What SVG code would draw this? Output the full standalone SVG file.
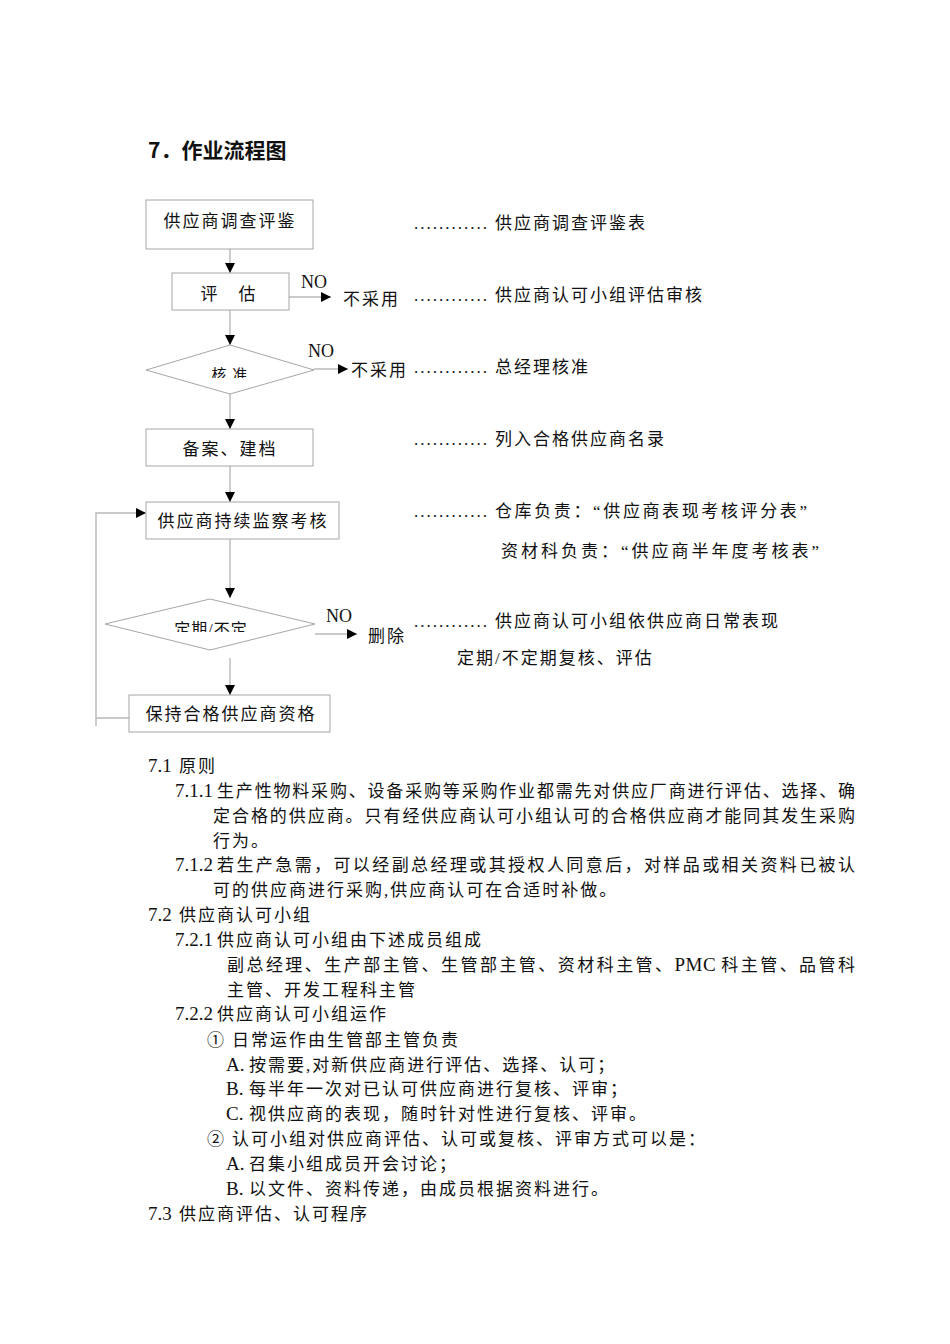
<svg xmlns="http://www.w3.org/2000/svg" width="950" height="1344" viewBox="0 0 950 1344">
<style>
text{font-family:"Liberation Serif","Noto Sans CJK SC",serif;fill:#111;}
.t{font-size:17px;letter-spacing:2px;}
.n{font-size:19px;}
.title{font-size:21px;font-weight:bold;font-family:"Noto Sans CJK SC","Liberation Sans",sans-serif;}
.box{fill:#fff;stroke:#a6a6a6;stroke-width:1;}
.conn{fill:none;stroke:#b8b8b8;stroke-width:1.4;}
.dots{font-size:17px;}
.sm{font-size:15px;letter-spacing:1px;}
</style>
<defs>
<marker id="ah" markerUnits="userSpaceOnUse" markerWidth="10" markerHeight="10" refX="10" refY="5" orient="auto">
<path d="M0,0 L10,5 L0,10 z" fill="#000"/>
</marker>
<clipPath id="c1"><rect x="140" y="350" width="180" height="28"/></clipPath>
<clipPath id="c2"><rect x="100" y="604" width="220" height="28"/></clipPath>
</defs>
<rect width="950" height="1344" fill="#fff"/>

<text class="title" x="148" y="158">7．作业流程图</text>

<g id="connectors">
<path class="conn" d="M230,249 V273" marker-end="url(#ah)"/>
<path class="conn" d="M230,310 V345" marker-end="url(#ah)"/>
<path class="conn" d="M230,394 V429" marker-end="url(#ah)"/>
<path class="conn" d="M230,466 V502" marker-end="url(#ah)"/>
<path class="conn" d="M230,539 V598" marker-end="url(#ah)"/>
<path class="conn" d="M230,658 V695" marker-end="url(#ah)"/>
<path class="conn" d="M289,297 H331" marker-end="url(#ah)"/>
<path class="conn" d="M314,369 H348" marker-end="url(#ah)"/>
<path class="conn" d="M315,634 H357" marker-end="url(#ah)"/>
<path class="conn" d="M129,718 H96 V513 H146" marker-end="url(#ah)"/>
<path class="conn" d="M96,718 V726"/>
<text class="n" x="301" y="288" style="font-size:18px">NO</text>
<text class="n" x="308" y="357" style="font-size:18px">NO</text>
<text class="n" x="326" y="622" style="font-size:18px">NO</text>
</g>

<g id="n1">
<rect class="box" x="146" y="200" width="167" height="49"/>
<text class="t" x="230" y="227" text-anchor="middle">供应商调查评鉴</text>
</g>
<g id="n2">
<rect class="box" x="172" y="273" width="117" height="37"/>
<text class="t" x="229" y="300" text-anchor="middle">评　估</text>
</g>
<g id="n2no">
<text class="t" x="343" y="305">不采用</text>
</g>
<g id="n3">
<polygon class="box" points="146,370 230,345 314,370 230,394"/>
<text class="sm" x="230" y="380" text-anchor="middle" clip-path="url(#c1)">核 准</text>
</g>
<g id="n3no">
<text class="t" x="351" y="376">不采用</text>
</g>
<g id="n4">
<rect class="box" x="146" y="429" width="167" height="37"/>
<text class="t" x="230" y="455" text-anchor="middle">备案、建档</text>
</g>
<g id="n5">
<rect class="box" x="146" y="502" width="193" height="37"/>
<text class="t" x="243" y="527" text-anchor="middle">供应商持续监察考核</text>
</g>
<g id="n6">
<polygon class="box" points="105,624 210,599 315,624 210,650"/>
<text class="t" x="211" y="635" text-anchor="middle" style="font-size:16px;letter-spacing:1px" clip-path="url(#c2)">定期/不定</text>
</g>
<g id="n6no">
<text class="t" x="368" y="642">删除</text>
</g>
<g id="n7">
<rect class="box" x="129" y="695" width="201" height="37"/>
<text class="t" x="231" y="720" text-anchor="middle">保持合格供应商资格</text>
</g>

<g id="notes">
<text class="dots" x="414" y="229" textLength="73" lengthAdjust="spacing">............</text>
<text class="t" x="495" y="229">供应商调查评鉴表</text>
<text class="dots" x="414" y="301" textLength="73" lengthAdjust="spacing">............</text>
<text class="t" x="495" y="301">供应商认可小组评估审核</text>
<text class="dots" x="414" y="373" textLength="73" lengthAdjust="spacing">............</text>
<text class="t" x="495" y="373">总经理核准</text>
<text class="dots" x="414" y="445" textLength="73" lengthAdjust="spacing">............</text>
<text class="t" x="495" y="445">列入合格供应商名录</text>
<text class="dots" x="414" y="517" textLength="73" lengthAdjust="spacing">............</text>
<text class="t" x="495" y="517" textLength="314" lengthAdjust="spacing">仓库负责：“供应商表现考核评分表”</text>
<text class="t" x="501" y="557" textLength="320" lengthAdjust="spacing">资材科负责：“供应商半年度考核表”</text>
<text class="dots" x="414" y="627" textLength="73" lengthAdjust="spacing">............</text>
<text class="t" x="495" y="627">供应商认可小组依供应商日常表现</text>
<text class="t" x="457" y="664">定期/不定期复核、评估</text>
</g>

<g id="body">
<text class="n" x="148" y="772">7.1</text>
<text class="t" x="179" y="772">原则</text>
<text class="n" x="175" y="797">7.1.1</text>
<text class="t" x="217" y="797" textLength="640" lengthAdjust="spacing">生产性物料采购、设备采购等采购作业都需先对供应厂商进行评估、选择、确</text>
<text class="t" x="213" y="822" textLength="644" lengthAdjust="spacing">定合格的供应商。只有经供应商认可小组认可的合格供应商才能同其发生采购</text>
<text class="t" x="213" y="847">行为。</text>
<text class="n" x="175" y="871">7.1.2</text>
<text class="t" x="217" y="871" textLength="640" lengthAdjust="spacing">若生产急需，可以经副总经理或其授权人同意后，对样品或相关资料已被认</text>
<text class="t" x="213" y="896">可的供应商进行采购,供应商认可在合适时补做。</text>
<text class="n" x="148" y="921">7.2</text>
<text class="t" x="179" y="921">供应商认可小组</text>
<text class="n" x="175" y="946">7.2.1</text>
<text class="t" x="217" y="946">供应商认可小组由下述成员组成</text>
<text class="t" x="227" y="971" textLength="630" lengthAdjust="spacing">副总经理、生产部主管、生管部主管、资材科主管、<tspan class="n" style="letter-spacing:0">PMC </tspan>科主管、品管科</text>
<text class="t" x="227" y="996">主管、开发工程科主管</text>
<text class="n" x="175" y="1020">7.2.2</text>
<text class="t" x="217" y="1020">供应商认可小组运作</text>
<text class="t" x="207" y="1046">①<tspan x="232">日常运作由生管部主管负责</tspan></text>
<text class="n" x="226" y="1071">A.</text>
<text class="t" x="249" y="1071">按需要,对新供应商进行评估、选择、认可；</text>
<text class="n" x="226" y="1095">B.</text>
<text class="t" x="249" y="1095">每半年一次对已认可供应商进行复核、评审；</text>
<text class="n" x="226" y="1120">C.</text>
<text class="t" x="249" y="1120">视供应商的表现，随时针对性进行复核、评审。</text>
<text class="t" x="207" y="1145">②<tspan x="232">认可小组对供应商评估、认可或复核、评审方式可以是：</tspan></text>
<text class="n" x="226" y="1170">A.</text>
<text class="t" x="249" y="1170">召集小组成员开会讨论；</text>
<text class="n" x="226" y="1195">B.</text>
<text class="t" x="249" y="1195">以文件、资料传递，由成员根据资料进行。</text>
<text class="n" x="148" y="1220">7.3</text>
<text class="t" x="179" y="1220">供应商评估、认可程序</text>
</g>
</svg>
